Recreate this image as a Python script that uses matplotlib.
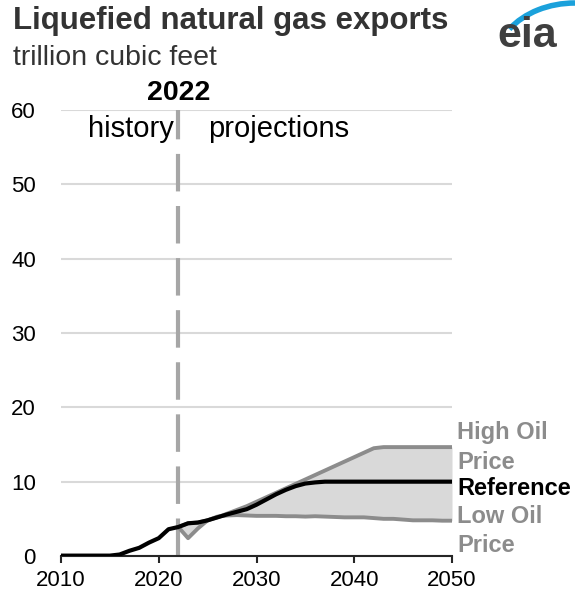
import numpy as np
import matplotlib.pyplot as plt
from matplotlib.patches import Arc

plt.rcParams['font.family'] = ['Liberation Sans', 'DejaVu Sans']

# data (trillion cubic feet)
years = list(range(2010, 2051))
reference = [0.05, 0.05, 0.05, 0.05, 0.05, 0.05, 0.2, 0.7, 1.1, 1.8, 2.4,
             3.6, 3.9, 4.4, 4.5, 4.8, 5.2, 5.6, 5.95, 6.3, 6.9,
             7.6, 8.3, 8.9, 9.4, 9.75, 9.9, 10.0, 10.0, 10.0, 10.0,
             10.0, 10.0, 10.0, 10.0, 10.0, 10.0, 10.0, 10.0, 10.0, 10.0]
proj_years = list(range(2022, 2051))
high_oil = [3.9, 4.4, 4.5, 4.8, 5.2, 5.7, 6.2, 6.7, 7.3,
            7.9, 8.5, 9.1, 9.7, 10.3, 10.9, 11.5, 12.1, 12.7, 13.3,
            13.9, 14.5, 14.65, 14.65, 14.65, 14.65, 14.65, 14.65, 14.65, 14.65]
low_oil = [3.9, 2.4, 3.7, 4.8, 5.3, 5.45, 5.5, 5.45, 5.4,
           5.4, 5.4, 5.35, 5.35, 5.3, 5.35, 5.3, 5.25, 5.2, 5.2,
           5.2, 5.1, 5.0, 5.0, 4.9, 4.8, 4.8, 4.8, 4.75, 4.75]

grid_c = '#d9d9d9'
gray = '#8c8c8c'

fig = plt.figure(figsize=(5.75, 5.95), dpi=100)
ax = fig.add_axes([61 / 575, 39 / 595, 391 / 575, 446 / 595])

ax.fill_between(proj_years, low_oil, high_oil, color='#d9d9d9', lw=0, zorder=1)
ax.plot(proj_years, high_oil, color=gray, lw=2.8, zorder=2, solid_capstyle='butt')
ax.plot(proj_years, low_oil, color=gray, lw=2.8, zorder=2, solid_capstyle='butt')
ax.plot(years, reference, color='black', lw=3, zorder=3, solid_capstyle='butt')

# history / projections divider
ax.plot([2022, 2022], [0, 60], color='#a6a6a6', lw=3, zorder=1.5,
        linestyle=(0, (9, 3.5)))

ax.set_xlim(2010, 2050)
ax.set_ylim(0, 60)
ax.set_xticks(range(2010, 2051, 10))
ax.set_yticks(range(0, 61, 10))
ax.yaxis.grid(True, color=grid_c, lw=1.5)
ax.set_axisbelow(True)
for s in ['left', 'right', 'top']:
    ax.spines[s].set_visible(False)
ax.spines['bottom'].set_color('#262626')
ax.spines['bottom'].set_linewidth(1.5)
ax.tick_params(axis='x', length=5, width=1.5, color='#262626', labelsize=16, pad=5)
ax.tick_params(axis='y', length=0, labelsize=16, pad=18)

ax.text(2022, 62.3, '2022', ha='center', va='center', fontsize=20.5, fontweight='bold')
ax.text(2021.5, 57.5, 'history', ha='right', va='center', fontsize=21)
ax.text(2025, 57.5, 'projections', ha='left', va='center', fontsize=21)

lab = dict(ha='left', va='center', fontsize=17, fontweight='bold', clip_on=False)
ax.text(2050.5, 16.6, 'High Oil', color=gray, **lab)
ax.text(2050.5, 12.6, 'Price', color=gray, **lab)
ax.text(2050.5, 9.1, 'Reference', color='black', **lab)
ax.text(2050.5, 5.3, 'Low Oil', color=gray, **lab)
ax.text(2050.5, 1.4, 'Price', color=gray, **lab)

fig.text(13 / 575, 1 - 21 / 595, 'Liquefied natural gas exports', ha='left', va='center',
         fontsize=22.5, fontweight='bold', color='#333333')
fig.text(13 / 575, 1 - 58 / 595, 'trillion cubic feet', ha='left', va='center',
         fontsize=20.5, color='#333333')

# eia logo
lax = fig.add_axes([485 / 575, 1 - 56 / 595, 90 / 575, 56 / 595])
lax.set_xlim(0, 90)
lax.set_ylim(0, 56)
lax.axis('off')
lax.text(42, 20, 'eia', ha='center', va='center', fontsize=31, fontweight='bold',
         color='#3f3f3f')
lax.add_patch(Arc((90, -8), 160, 122, theta1=90, theta2=152, color='#1ba1db', lw=4))

fig.savefig('out.png', dpi=100)
